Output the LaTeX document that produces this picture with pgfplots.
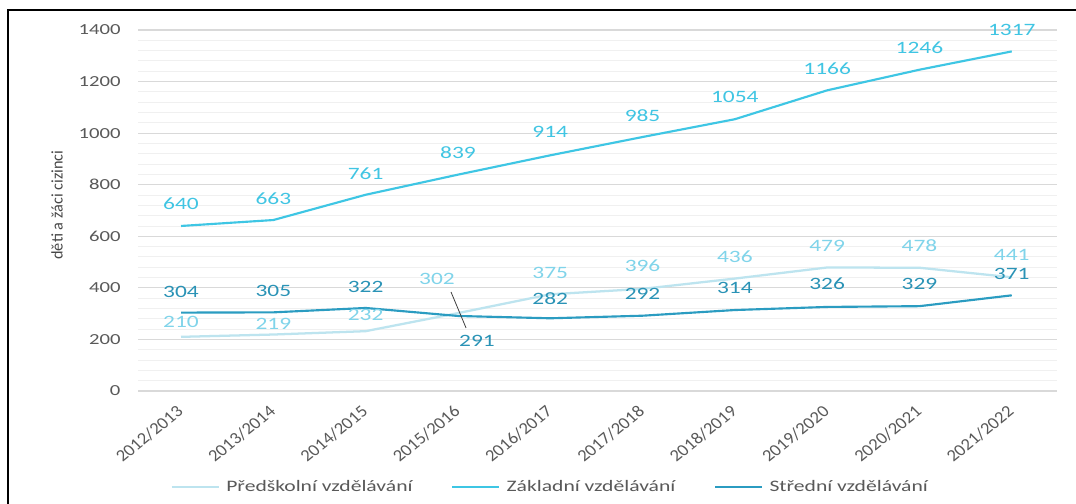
\documentclass[border=0pt]{standalone}
\usepackage{fontspec}
\setmainfont{Carlito}[FakeStretch=1.35]
\newfontfamily\plainfont{Carlito}
\usepackage{graphicx}
\usepackage{pgfplots}
\usepackage{pgfplotstable}
\pgfplotsset{compat=1.18}
\definecolor{preC}{HTML}{BDE4EF}
\definecolor{preL}{HTML}{80D4EA}
\definecolor{zakC}{HTML}{3EC6E4}
\definecolor{zakL}{HTML}{40C5E3}
\definecolor{strC}{HTML}{2B9CC1}
\definecolor{strL}{HTML}{2A93B6}
\definecolor{tickgray}{HTML}{595959}
\definecolor{gridmaj}{HTML}{D9D9D9}
\definecolor{gridmin}{HTML}{F0F0F0}
\newcommand\rl[1]{\scalebox{1.12}[1]{\rotatebox{42}{\plainfont\fontsize{12.5}{13}\selectfont #1}}}

\pgfplotstableread{
x y dx dy
0 210 0 11.25
1 219 0 8.25
2 232 0 12
3 302 -15.75 25.5
4 375 0 15.75
5 396 0 17.25
6 436 0 16.5
7 479 0 16.5
8 478 0 16.5
9 441 0 16.5
}\pre
\pgfplotstableread{
x y dx dy
0 640 0 16.5
1 663 0 16
2 761 0 16
3 839 0 16.5
4 914 0 17.5
5 985 0 16
6 1054 0 16.5
7 1166 0 16.5
8 1246 0 16.5
9 1317 0 16
}\zak
\pgfplotstableread{
x y dx dy
0 304 0 15.75
1 305 0 15.75
2 322 0 15.75
3 291 14.25 -18.75
4 282 0 15
5 292 0 16.5
6 314 0 16.5
7 326 0 17.25
8 329 0 16.5
9 371 0 15.75
}\str

\begin{document}
\begin{tikzpicture}
\useasboundingbox (0,0) rectangle (807pt,378pt);
\fill[white] (0,0) rectangle (807pt,378pt);
\draw[black, line width=1.5pt] (6pt,0) -- (6pt,370.5pt) -- (807pt,370.5pt);
\begin{axis}[
  at={(103.5pt,84.75pt)}, anchor=south west,
  scale only axis, width=689.25pt, height=270.75pt,
  xmin=-0.466, xmax=9.49, ymin=0, ymax=1400,
  clip=false,
  axis line style={draw=none},
  tick style={draw=none},
  ytick={0,200,...,1400}, minor y tick num=4,
  ymajorgrids, yminorgrids,
  major grid style={draw=gridmaj, line width=0.9pt},
  minor grid style={draw=gridmin, line width=0.7pt},
  xtick={0,...,9},
  xticklabels={\rl{2012/2013},\rl{2013/2014},\rl{2014/2015},\rl{2015/2016},\rl{2016/2017},\rl{2017/2018},\rl{2018/2019},\rl{2019/2020},\rl{2020/2021},\rl{2021/2022}},
  xticklabel style={text=tickgray, anchor=north east, inner sep=0pt, xshift=3pt, yshift=-10pt},
  yticklabel style={font=\fontsize{11.5}{12}\selectfont, text=tickgray, anchor=east, xshift=-9.6pt},
  /pgf/number format/assume math mode=true,
  /pgf/number format/1000 sep={},
  ylabel={\plainfont\fontsize{12.2}{13}\selectfont d\v{e}ti a \v{z}\'aci cizinci},
  every axis y label/.style={at={(axis description cs:-0.088,0.515)}, rotate=90, anchor=center, text=black!72},
  legend columns=3,
  legend style={at={(axis description cs:0.449,-0.266)}, anchor=center, draw=none, fill=none,
    font=\fontsize{12}{13}\selectfont, text=tickgray,
    /tikz/every odd column/.append style={column sep=3pt},
    /tikz/every even column/.append style={column sep=27pt}},
  legend image code/.code={\draw[#1] (0pt,0pt) -- (35pt,0pt);},
  nodes near coords,
  visualization depends on={\thisrow{dx}\as\dx},
  visualization depends on={\thisrow{dy}\as\dy},
  every node near coord/.append style={anchor=center, xshift=\dx pt, yshift=\dy pt, font=\fontsize{13}{14}\selectfont},
]
\addplot[preC, line width=1.7pt, no markers, every node near coord/.append style={text=preL}] table[x=x,y=y] {\pre};
\addlegendentry{P\v{r}ed\v{s}koln\'i vzd\v{e}l\'av\'an\'i}
\addplot[zakC, line width=1.6pt, no markers, every node near coord/.append style={text=zakL}] table[x=x,y=y] {\zak};
\addlegendentry{Z\'akladn\'i vzd\v{e}l\'av\'an\'i}
\addplot[strC, line width=1.6pt, no markers, every node near coord/.append style={text=strL}] table[x=x,y=y] {\str};
\addlegendentry{St\v{r}edn\'i vzd\v{e}l\'av\'an\'i}
\draw[black!75, line width=0.6pt] (axis cs:3,291) ++(-5.2pt,18pt) -- ++(11.3pt,-27pt);
\end{axis}
\end{tikzpicture}
\end{document}
